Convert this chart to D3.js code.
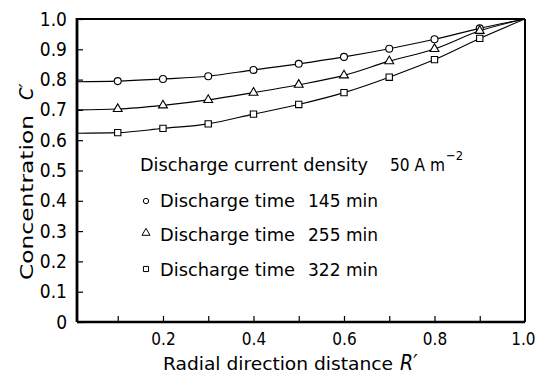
<!DOCTYPE html>
<html>
<head>
<meta charset="utf-8">
<script src="https://cdn.jsdelivr.net/npm/d3@7"></script>
<style>
  html, body { margin: 0; padding: 0; background: #fff; }
  svg { display: block; }
  text { font-family: "DejaVu Sans Condensed", "Liberation Sans Narrow", sans-serif; fill: #000; }
</style>
</head>
<body>
<svg id="chart" width="536" height="376"></svg>
<script>
// ---- data ----
const radial = [0.1, 0.2, 0.3, 0.4, 0.5, 0.6, 0.7, 0.8, 0.9];
const conc145 = [0.795, 0.802, 0.811, 0.832, 0.852, 0.875, 0.902, 0.933, 0.969];
const conc255 = [0.703, 0.715, 0.733, 0.757, 0.783, 0.814, 0.861, 0.901, 0.961];
const conc322 = [0.625, 0.639, 0.654, 0.686, 0.718, 0.757, 0.808, 0.866, 0.936];
// curve end values at the centre (R'=0) and at the wall (R'=1)
const startValues = [0.793, 0.700, 0.623];
const endValue = 1.0;
const seriesNames = ["Discharge time", "Discharge time", "Discharge time"];
const seriesTimes = ["145 min", "255 min", "322 min"];
const seriesSymbols = ["circle", "triangle", "square"];
const legendTitle = "Discharge current density";
const legendDensity = "50 A m";
const legendExponent = "−2";
const xTickValues = [0.2, 0.4, 0.6, 0.8, 1.0];
const yTickValues = [0, 0.1, 0.2, 0.3, 0.4, 0.5, 0.6, 0.7, 0.8, 0.9, 1.0];
const xMinorTicks = [0.1, 0.2, 0.3, 0.4, 0.5, 0.6, 0.7, 0.8, 0.9];

const svg = d3.select("#chart");
const mLeft = 77, mRight = 525, mTop = 19, mBottom = 322;

const x = d3.scaleLinear().domain([0.01, 1]).range([mLeft, mRight]);
const y = d3.scaleLinear().domain([0, 1]).range([mBottom, mTop]);

svg.append("defs").append("clipPath").attr("id", "clip")
  .append("rect").attr("x", mLeft).attr("y", mTop).attr("width", mRight - mLeft).attr("height", mBottom - mTop);

// y axis: inward ticks + labels
const yAxis = d3.axisLeft(y).tickValues(yTickValues).tickSize(-6).tickPadding(10)
  .tickFormat(d => d === 0 ? "0" : d3.format(".1f")(d));
const gy = svg.append("g").attr("transform", `translate(${mLeft},0)`).call(yAxis);
gy.select(".domain").remove();
gy.selectAll(".tick line").attr("stroke", "#000").attr("stroke-width", 1.2);
gy.selectAll(".tick text").attr("font-size", 19).attr("fill", "#000");

// x axis: inward ticks every 0.1
const xAxis = d3.axisBottom(x).tickValues(xMinorTicks).tickSize(-6).tickFormat("");
const gx = svg.append("g").attr("transform", `translate(0,${mBottom})`).call(xAxis);
gx.select(".domain").remove();
gx.selectAll(".tick line").attr("stroke", "#000").attr("stroke-width", 1.2);

// x labels
const xLab = d3.axisBottom(x).tickValues(xTickValues).tickSize(0).tickPadding(11)
  .tickFormat(d3.format(".1f"));
const gxl = svg.append("g").attr("transform", `translate(0,${mBottom})`).call(xLab);
gxl.select(".domain").remove();
gxl.selectAll(".tick text").attr("font-size", 17).attr("fill", "#000")
  .filter(d => d === 1).attr("text-anchor", "end").attr("dx", 10);

// frame
svg.append("line").attr("x1", mLeft).attr("x2", mLeft).attr("y1", mTop - 1).attr("y2", mBottom)
  .attr("stroke", "#000").attr("stroke-width", 2.8);
svg.append("line").attr("x1", mLeft).attr("x2", mRight).attr("y1", mBottom).attr("y2", mBottom)
  .attr("stroke", "#000").attr("stroke-width", 2.6);
svg.append("line").attr("x1", mLeft).attr("x2", mRight).attr("y1", mTop).attr("y2", mTop)
  .attr("stroke", "#000").attr("stroke-width", 2);
svg.append("line").attr("x1", mRight).attr("x2", mRight).attr("y1", mTop).attr("y2", mBottom)
  .attr("stroke", "#000").attr("stroke-width", 2);

// series
const series = [conc145, conc255, conc322];
const line = d3.line().x(d => x(d[0])).y(d => y(d[1])).curve(d3.curveMonotoneX);
const symbolTypes = { circle: d3.symbolCircle, triangle: d3.symbolTriangle, square: d3.symbolSquare };
const symbolSizes = { circle: 38, triangle: 34, square: 40 };

const plot = svg.append("g").attr("clip-path", "url(#clip)");
series.forEach((vals, i) => {
  const pts = [[0, startValues[i]]].concat(radial.map((r, j) => [r, vals[j]])).concat([[1, endValue]]);
  plot.append("path").attr("d", line(pts)).attr("fill", "none").attr("stroke", "#000").attr("stroke-width", 1.1);
});
series.forEach((vals, i) => {
  const sym = d3.symbol().type(symbolTypes[seriesSymbols[i]]).size(symbolSizes[seriesSymbols[i]]);
  svg.append("g").selectAll("path").data(radial.map((r, j) => [r, vals[j]])).join("path")
    .attr("d", sym)
    .attr("transform", d => `translate(${x(d[0])},${y(d[1])})`)
    .attr("fill", "#fff").attr("stroke", "#000").attr("stroke-width", 1.1);
});

// legend
svg.append("text").attr("x", 140).attr("y", 171).attr("font-size", 18)
  .attr("textLength", 228).attr("lengthAdjust", "spacingAndGlyphs").text(legendTitle);
svg.append("text").attr("x", 390).attr("y", 171).attr("font-size", 18)
  .attr("textLength", 55).attr("lengthAdjust", "spacingAndGlyphs").text(legendDensity);
svg.append("text").attr("x", 446).attr("y", 160).attr("font-size", 13)
  .attr("textLength", 17).attr("lengthAdjust", "spacingAndGlyphs").text(legendExponent);

const legendBase = [207, 241, 276];
const legendMarkY = [201, 233, 269];
const legendSizes = { circle: 22, triangle: 28, square: 26 };
seriesNames.forEach((lab, i) => {
  svg.append("path")
    .attr("d", d3.symbol().type(symbolTypes[seriesSymbols[i]]).size(legendSizes[seriesSymbols[i]]))
    .attr("transform", `translate(146,${legendMarkY[i]})`)
    .attr("fill", "#fff").attr("stroke", "#000").attr("stroke-width", 1);
  svg.append("text").attr("x", 160).attr("y", legendBase[i]).attr("font-size", 18)
    .attr("textLength", 135).attr("lengthAdjust", "spacingAndGlyphs").text(lab);
  svg.append("text").attr("x", 308).attr("y", legendBase[i]).attr("font-size", 18)
    .attr("textLength", 70).attr("lengthAdjust", "spacingAndGlyphs").text(seriesTimes[i]);
});

// axis titles
svg.append("text").attr("transform", `translate(33,280) rotate(-90)`)
  .attr("font-size", 18).attr("textLength", 165).attr("lengthAdjust", "spacingAndGlyphs")
  .text("Concentration");
svg.append("text").attr("transform", `translate(33,280) rotate(-90)`).attr("x", 180)
  .attr("font-size", 20).attr("font-style", "italic").text("C′");

svg.append("text").attr("x", 163).attr("y", 370).attr("font-size", 18)
  .attr("textLength", 230).attr("lengthAdjust", "spacingAndGlyphs").text("Radial direction distance");
svg.append("text").attr("x", 400).attr("y", 370).attr("font-size", 21)
  .attr("font-style", "italic").text("R′");
</script>
</body>
</html>
